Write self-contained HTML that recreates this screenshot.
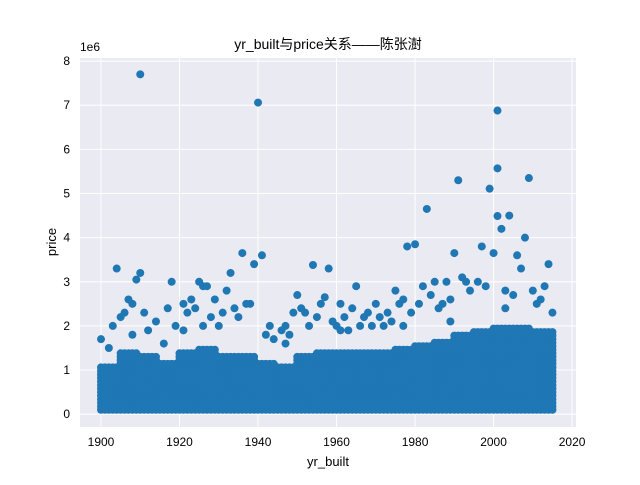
<!DOCTYPE html>
<html><head><meta charset="utf-8"><style>
body{margin:0;background:#fff;}
svg text{font-family:"Liberation Sans","Noto Sans CJK SC",sans-serif;fill:#000;}
</style></head><body>
<svg id="chart" width="640" height="480" xmlns="http://www.w3.org/2000/svg">
<rect width="640" height="480" fill="#fff"/>
<rect x="80" y="58" width="496" height="369" fill="#eaeaf2"/>
<g id="grid"></g>
<g id="marks"></g>
<g id="ticks"></g>
<text x="328" y="49" font-size="14" text-anchor="middle">yr_built与price关系——陈张澍</text>
<text x="328" y="466" font-size="13" text-anchor="middle">yr_built</text>
<text transform="translate(56,242) rotate(-90)" font-size="13" text-anchor="middle">price</text>
<text x="80" y="51" font-size="12">1e6</text>
</svg>
<script>
const xTicks=[1900,1920,1940,1960,1980,2000,2020];
const yTicks=[0,1,2,3,4,5,6,7,8];
const binStarts=[1900,1905,1910,1915,1920,1925,1930,1935,1940,1945,1950,1955,1960,1965,1970,1975,1980,1985,1990,1995,2000,2005,2010];
const binTops=[1.1,1.4,1.3,1.2,1.4,1.5,1.3,1.3,1.2,1.1,1.3,1.4,1.4,1.4,1.4,1.5,1.6,1.7,1.8,1.9,2.0,2.0,1.9];
const midYears=[1900,1902,1903,1905,1906,1908,1911,1912,1914,1916,1917,1919,1921,1922,1923,1924,1926,1928,1929,1930,1931,1932,1934,1935,1938,1942,1943,1944,1946,1947,1948,1949,1951,1952,1953,1955,1956,1959,1960,1961,1962,1963,1964,1966,1967,1968,1969,1971,1972,1973,1974,1976,1977,1979,1981,1982,1984,1986,1987,1989,1992,1994,1996,1998,2003,2005,2010,2012,2015,1908,1926,1947,1961,1977,1989,2003];
const midPrices=[1.7,1.5,2.0,2.2,2.3,2.5,2.3,1.9,2.1,1.6,2.4,2.0,1.9,2.3,2.6,2.4,2.9,2.2,2.6,2.0,2.3,2.8,2.4,2.2,2.5,1.8,2.0,1.7,1.9,2.0,1.8,2.3,2.4,2.3,2.0,2.2,2.5,2.1,2.0,2.5,2.2,1.9,2.4,2.0,2.2,2.3,2.0,2.2,2.0,2.3,2.1,2.5,2.6,2.3,2.5,2.9,2.7,2.4,2.5,2.6,3.1,2.8,3.0,2.9,2.8,2.7,2.8,2.6,2.3,1.8,2.0,1.6,1.9,2.0,2.1,2.4];
const outYears=[1910,1940,2001,2001,2009,1991,1999,2001,2004,2002,1983,2008,2000,1990,1997,1978,1980,1936,1941,1939,1904,1910,1909,1933,1954,1958,1918,1925,1927,2014,1965,1985,2006,2007,1988,1993,1907,1921,1937,1950,1957,1970,1975,2011,2013];
const outPrices=[7.7,7.06,6.88,5.57,5.35,5.3,5.11,4.49,4.5,4.2,4.65,4.0,3.65,3.65,3.8,3.8,3.85,3.65,3.6,3.4,3.3,3.2,3.05,3.2,3.38,3.3,3.0,3.0,2.9,3.4,2.9,3.0,3.6,3.3,3.0,3.0,2.6,2.5,2.5,2.7,2.65,2.5,2.8,2.5,2.9];
const NS="http://www.w3.org/2000/svg";
const X=v=>80+(v-1894.65)*(496/126.35);
const Y=v=>427-(v+0.29)*(369/8.36);
const grid=document.getElementById('grid'),ticks=document.getElementById('ticks'),marks=document.getElementById('marks');
xTicks.forEach(t=>{
 const l=document.createElementNS(NS,'line');
 
 
 l.setAttribute('x1',X(t));l.setAttribute('x2',X(t));l.setAttribute('y1',58);l.setAttribute('y2',427);l.setAttribute('stroke','#fff');
 grid.appendChild(l);
 const tx=document.createElementNS(NS,'text');
 
 
 tx.setAttribute('x',X(t));tx.setAttribute('y',446);tx.setAttribute('font-size','12');tx.setAttribute('text-anchor','middle');tx.textContent=t;
 ticks.appendChild(tx);
});
yTicks.forEach(t=>{
 const l=document.createElementNS(NS,'line');
 
 
 l.setAttribute('x1',80);l.setAttribute('x2',576);l.setAttribute('y1',Y(t));l.setAttribute('y2',Y(t));l.setAttribute('stroke','#fff');
 grid.appendChild(l);
 const tx=document.createElementNS(NS,'text');
 
 
 tx.setAttribute('x',70);tx.setAttribute('y',Y(t)+4);tx.setAttribute('font-size','12');tx.setAttribute('text-anchor','end');tx.textContent=t;
 ticks.appendChild(tx);
});
function dot(yr,p){
 const c=document.createElementNS(NS,'circle');
 
 
 c.setAttribute('cx',X(yr));c.setAttribute('cy',Y(p));c.setAttribute('r',4);c.setAttribute('fill','#1f77b4');
 marks.appendChild(c);
}
binStarts.forEach((b,i)=>{
 const last=i===binStarts.length-1?2015:b+4;
 for(let yr=b;yr<=last;yr++){
  for(let p=0.1;p<=binTops[i];p+=0.08) dot(yr,p);
 }
});
midYears.forEach((yr,i)=>dot(yr,midPrices[i]));
outYears.forEach((yr,i)=>dot(yr,outPrices[i]));
</script>
</body></html>
